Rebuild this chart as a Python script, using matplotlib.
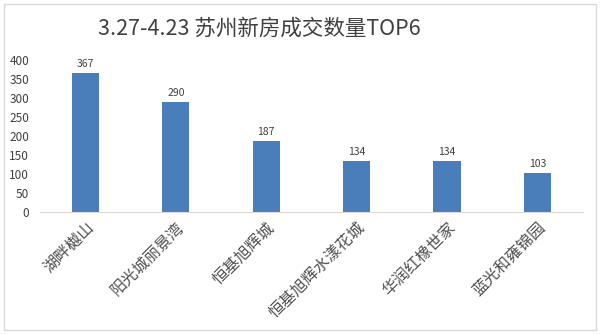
import matplotlib
matplotlib.use("Agg")
import matplotlib.pyplot as plt
from matplotlib.patches import Rectangle
from matplotlib.transforms import ScaledTranslation

plt.rcParams['font.family'] = ['Noto Sans CJK SC', 'DejaVu Sans']

title = "3.27-4.23 苏州新房成交数量TOP6"
categories = ["湖畔樾山", "阳光城丽景湾", "恒基旭辉城", "恒基旭辉水漾花城", "华润红橡世家", "蓝光和雍锦园"]
values = [367, 290, 187, 134, 134, 103]
yticks = [0, 50, 100, 150, 200, 250, 300, 350, 400]

fig = plt.figure(figsize=(6.0, 3.34), dpi=100)
fig.patch.set_facecolor('white')
fig.add_artist(Rectangle((0.006, 0.012), 0.988, 0.976, transform=fig.transFigure,
                         fill=False, edgecolor='#d9d9d9', linewidth=1))

ax = fig.add_axes([0.067, 0.365, 0.904, 0.455])
x = range(len(categories))
bars = ax.bar(x, values, width=0.3, color='#4a7ebb')
ax.set_xlim(-0.5, len(categories) - 0.5)
ax.set_ylim(0, 400)
ax.set_yticks(yticks)
ax.set_yticklabels([str(v) for v in yticks], fontsize=8.5, color='#404040')
ax.set_xticks(list(x))
ax.set_xticklabels(categories, rotation=45, ha='right', va='top', rotation_mode='anchor',
                   fontsize=11.5, color='#505050', fontweight='light')
offset = ScaledTranslation(9 / 100, 0, fig.dpi_scale_trans)
for lab in ax.get_xticklabels():
    lab.set_transform(lab.get_transform() + offset)
ax.tick_params(axis='both', length=0)
ax.tick_params(axis='x', pad=5)
ax.tick_params(axis='y', pad=8)
for s in ['top', 'right', 'left']:
    ax.spines[s].set_visible(False)
ax.spines['bottom'].set_color('#d9d9d9')
for xi, v in zip(x, values):
    ax.text(xi, v + 10, str(v), ha='center', va='bottom', fontsize=7.5, color='#404040')

fig.text(0.433, 0.915, title, ha='center', va='center', fontsize=15.5, color='#404040')

fig.savefig('out.png', dpi=100, facecolor='white')
